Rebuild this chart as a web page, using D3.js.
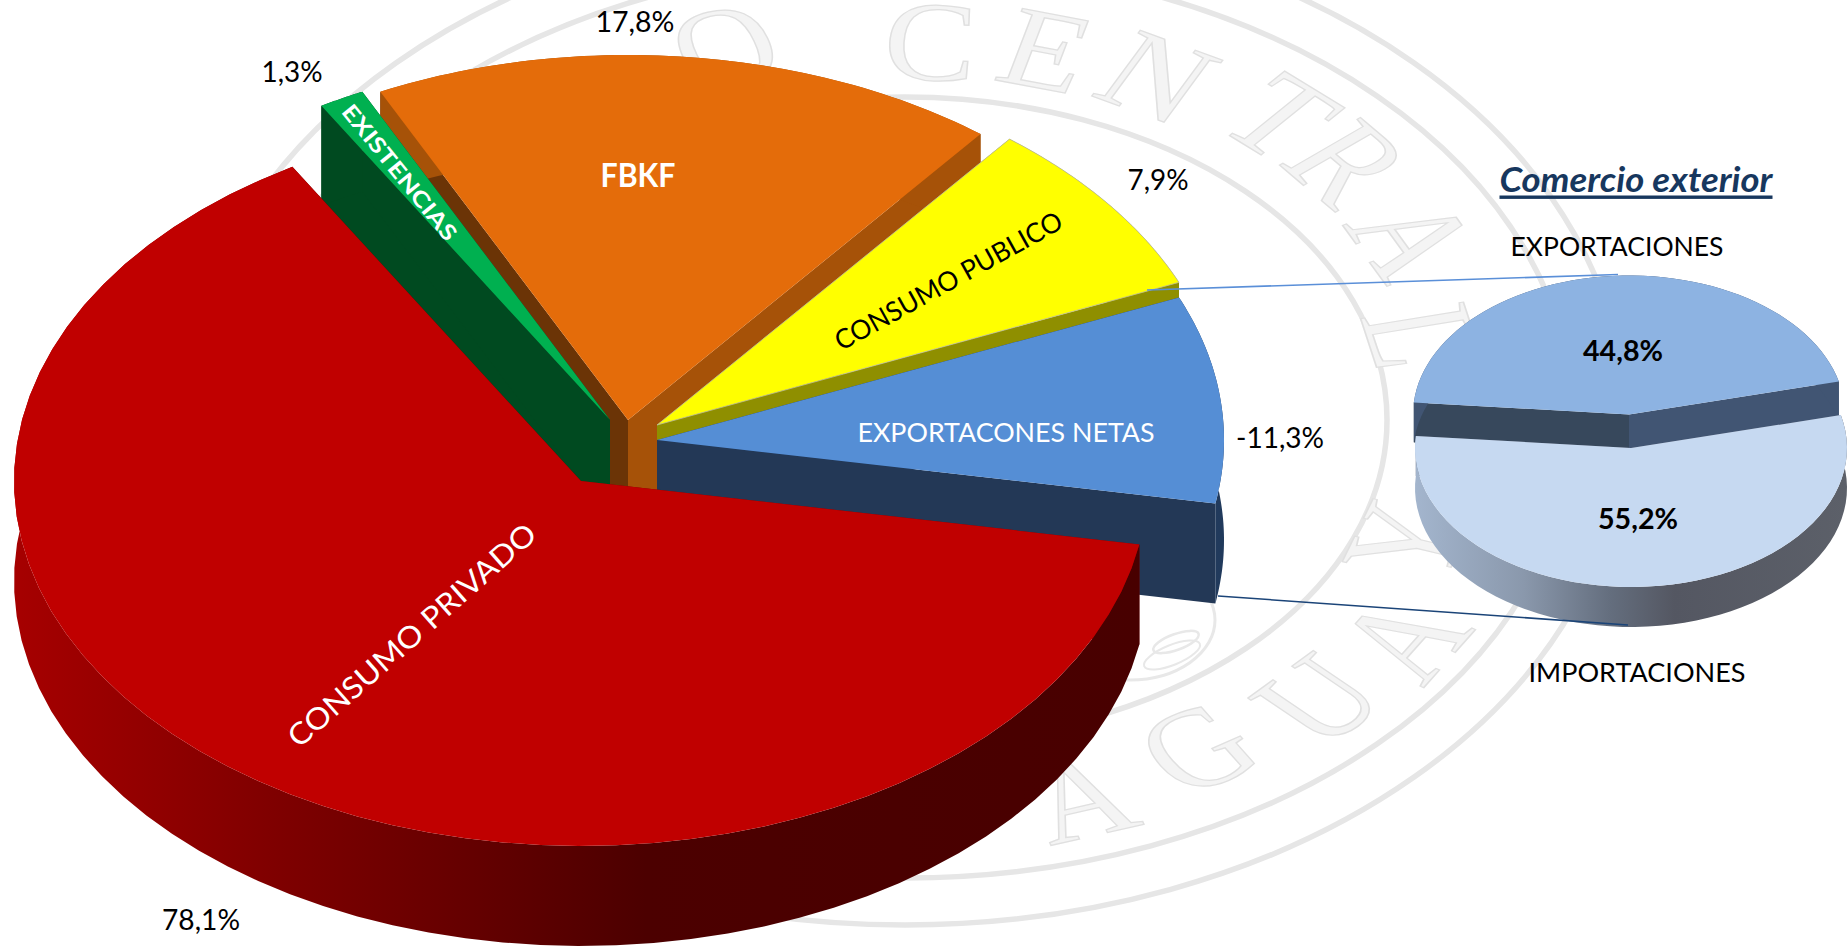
<!DOCTYPE html>
<html lang="es">
<head>
<meta charset="utf-8">
<title>Demanda agregada</title>
<script src="https://cdn.jsdelivr.net/npm/d3@7"></script>
<style>
html,body{margin:0;padding:0;background:#fff;overflow:hidden}
svg{display:block}
text{font-family:Lato,"Open Sans",sans-serif}
</style>
</head>
<body>
<svg id="chart" width="1847" height="949"></svg>
<script>
// ---- data ----
const categories = ["CONSUMO PRIVADO","EXISTENCIAS","FBKF","CONSUMO PUBLICO","EXPORTACONES NETAS"];
const values = [78.1, 1.3, 17.8, 7.9, -11.3];
const tradeCategories = ["EXPORTACIONES","IMPORTACIONES"];
const tradeValues = [44.8, 55.2];
const tradeTitle = "Comercio exterior";
const sealTop = ["O","C","E","N","T","R","A","L"];
const sealBottom = ["A","G","U","A","Y"];

// ---- layout (positions and styles only) ----
const W = 1847, H = 949;
const big = {rx:567, ry:365, depth:100};
const small = {rx:216, ry:139, depth:40, startDeg:275};
const sliceLayout = {
  "CONSUMO PRIVADO":   {cx:581,cy:481,top:"#c00000",outer:"url(#redWall)",cutA:"#7a0000",cutB:"#4a0000"},
  "EXISTENCIAS":       {cx:610,cy:420,top:"#00b050",outer:"#004a20",cutA:"#004a20",cutB:"#004a20"},
  "FBKF":              {cx:628,cy:420,top:"#e46c0a",outer:"#a65208",cutA:"#6b3406",cutB:"#a65208"},
  "CONSUMO PUBLICO":   {cx:657,cy:425,top:"#ffff00",outer:"#8f8f00",cutA:"#8f8f00",cutB:"#8f8f00",edge:"#b9b9a0"},
  "EXPORTACONES NETAS":{cx:657,cy:440,top:"#558ed5",outer:"#213a5c",cutA:"#213a5c",cutB:"#233856"}
};
const drawOrder = ["FBKF","CONSUMO PUBLICO","EXPORTACONES NETAS","EXISTENCIAS","CONSUMO PRIVADO"];
const nameLabels = {
  "CONSUMO PRIVADO":   {x:411,y:634,rot:-41.5,size:30,len:320,fill:"#fff"},
  "EXISTENCIAS":       {x:400,y:172,rot:51,size:22,len:168,fill:"#fff",weight:700},
  "FBKF":              {x:638,y:174,rot:0,size:32,len:75,fill:"#fff",weight:700},
  "CONSUMO PUBLICO":   {x:948,y:280,rot:-29,size:27,len:256,fill:"#000"},
  "EXPORTACONES NETAS":{x:1006,y:431,rot:0,size:27.5,len:297,fill:"#fff"}
};
const valueLabels = {
  "CONSUMO PRIVADO":   {x:201,y:918,len:78},
  "EXISTENCIAS":       {x:292,y:70,len:61},
  "FBKF":              {x:635,y:20,len:79},
  "CONSUMO PUBLICO":   {x:1158,y:178,len:61},
  "EXPORTACONES NETAS":{x:1280,y:436,len:88}
};
const tradeLayout = {
  "EXPORTACIONES":{cx:1629,cy:414.5,top:"#8db3e2",outer:"#415573",cutA:"#37485c",cutB:"#415573",
    vx:1623,vy:349,nx:1617,ny:245,nlen:213},
  "IMPORTACIONES":{cx:1631,cy:448,top:"#c6d9f1",outer:"url(#tradeWall)",cutA:"#5a6070",cutB:"#5a6070",
    vx:1638,vy:517,nx:1637,ny:671,nlen:217}
};
const connectors = [
  {x1:1147,y1:290,x2:1618,y2:274.5,color:"#5a8fd8"},
  {x1:1218,y1:596,x2:1628,y2:625,color:"#1b4478"}
];
const seal = {
  cx:905, cy:420, stretch:1.426, fontSize:113, squeeze:.86,
  rings:[{rx:720,ry:505},{rx:668,ry:458},{rx:482,ry:323}],
  topAngles:[-18.7,2.7,15,27.3,41,50.4,63,77],
  topRadii:[394,379,383,386,402,403,400,372],
  bottomAngles:[162,148,134,122,109],
  bottomRadii:[398,387,402,412,372],
  crest:[{cx:1130,cy:620,rx:85,ry:60,rot:0,w:3},{cx:1176,cy:642,rx:24,ry:8,rot:-20,w:2.5},{cx:1172,cy:655,rx:30,ry:10,rot:-22,w:2}]
};

// ---- helpers ----
const svg = d3.select("#chart");
const defs = svg.append("defs");
function hGradient(id, x1, x2, stops){
  const g = defs.append("linearGradient").attr("id",id)
    .attr("gradientUnits","userSpaceOnUse").attr("x1",x1).attr("x2",x2).attr("y1",0).attr("y2",0);
  stops.forEach(s=>g.append("stop").attr("offset",s[0]).attr("stop-color",s[1]));
}
hGradient("redWall",14,1143,[[0,"#a60000"],[.23,"#7f0000"],[.38,"#680000"],[.56,"#4c0000"],[1,"#480000"]]);
hGradient("tradeWall",1416,1847,[[0,"#a3b5cd"],[.25,"#8a98ac"],[.45,"#646e7e"],[.6,"#545762"],[1,"#5c6069"]]);

const line = d3.line();
const rad = d => d*Math.PI/180;
const project = (c, g, deg, dz=0) => [c.cx + g.rx*Math.sin(rad(deg)), c.cy - g.ry*Math.cos(rad(deg)) + dz];
const sample = (a, b) => d3.range(0,61).map(i => a + (b-a)*i/60);

function drawSlice(layer, c, g, a0, a1){
  const arc = sample(a0,a1);
  const top = arc.map(a=>project(c,g,a));
  const low = arc.map(a=>project(c,g,a,g.depth)).reverse();
  const apex = [c.cx,c.cy], apexLow = [c.cx,c.cy+g.depth];
  layer.append("path").attr("d",line([apex,top[0],low[60],apexLow])+"Z").attr("fill",c.cutA);
  layer.append("path").attr("d",line([apex,top[60],low[0],apexLow])+"Z").attr("fill",c.cutB);
  layer.append("path").attr("d",line(top.concat(low))+"Z").attr("fill",c.outer);
  const face = layer.append("path").attr("d",line([apex].concat(top))+"Z").attr("fill",c.top);
  if(c.edge) face.attr("stroke",c.edge).attr("stroke-width",.8);
}
function putText(sel, str, o){
  const t = sel.append("text")
    .attr("transform",`translate(${o.x},${o.y}) rotate(${o.rot||0})`)
    .attr("text-anchor","middle").attr("dominant-baseline","central")
    .attr("font-size",o.size).attr("fill",o.fill||"#000")
    .attr("font-weight",o.weight||400)
    .text(str);
  if(o.len) t.attr("textLength",o.len).attr("lengthAdjust","spacingAndGlyphs");
  return t;
}

// ---- watermark seal ----
const wm = svg.append("g").attr("class","seal");
seal.rings.forEach(r=>{
  wm.append("ellipse").attr("cx",seal.cx).attr("cy",seal.cy).attr("rx",r.rx).attr("ry",r.ry)
    .attr("fill","none").attr("stroke","#e6e6e6").attr("stroke-width",5.5);
});
seal.crest.forEach(r=>{
  wm.append("ellipse").attr("transform",`translate(${r.cx},${r.cy}) rotate(${r.rot})`).attr("rx",r.rx).attr("ry",r.ry)
    .attr("fill","none").attr("stroke","#e8e8e8").attr("stroke-width",r.w);
});
const wmText = wm.append("g").attr("transform",`translate(${seal.cx},${seal.cy}) scale(${seal.stretch},1)`);
function sealLetter(ch, deg, radius, flip){
  const th = rad(deg);
  wmText.append("text")
    .attr("transform",`translate(${radius*Math.sin(th)},${-radius*Math.cos(th)}) rotate(${flip?deg-180:deg}) scale(${seal.squeeze},1)`)
    .attr("text-anchor","middle").attr("dominant-baseline","central")
    .style("font-family","'Liberation Serif',serif")
    .attr("font-size",seal.fontSize).attr("fill","#f4f4f4")
    .attr("stroke","#e0e0e0").attr("stroke-width",1.4).attr("vector-effect","non-scaling-stroke")
    .text(ch);
}
sealTop.forEach((ch,i)=>sealLetter(ch,seal.topAngles[i],seal.topRadii[i],false));
sealBottom.forEach((ch,i)=>sealLetter(ch,seal.bottomAngles[i],seal.bottomRadii[i],true));

// ---- main pie ----
const pie = d3.pie().sort(null).value(d=>Math.abs(d));
const arcs = pie(values);
// the tilted view stretches the far part of the disc and compresses the near part
const viewAngle = d3.scaleLinear()
  .domain([0, arcs[0].endAngle, arcs[3].endAngle, 2*Math.PI])
  .range([100, 329.4, 427, 460]);
const mainLayer = svg.append("g").attr("class","main-pie");
drawOrder.forEach(name=>{
  const i = categories.indexOf(name), a = arcs[i];
  drawSlice(mainLayer.append("g"), sliceLayout[name], big, viewAngle(a.startAngle), viewAngle(a.endAngle));
});

// ---- trade pie ----
const tradeArcs = pie(tradeValues);
const tradeLayer = svg.append("g").attr("class","trade-pie");
const tradeAngle = d3.scaleLinear().domain([0,2*Math.PI]).range([small.startDeg, small.startDeg+360]);
tradeCategories.forEach((name,i)=>{
  drawSlice(tradeLayer.append("g"), tradeLayout[name], small, tradeAngle(tradeArcs[i].startAngle), tradeAngle(tradeArcs[i].endAngle));
});

// ---- connectors ----
svg.append("g").selectAll("line").data(connectors).join("line")
  .attr("x1",d=>d.x1).attr("y1",d=>d.y1).attr("x2",d=>d.x2).attr("y2",d=>d.y2)
  .attr("stroke",d=>d.color).attr("stroke-width",1.6);

// ---- labels ----
const labels = svg.append("g").attr("class","labels");
const comma = d3.formatLocale({decimal:",",thousands:".",grouping:[3],currency:["",""]}).format(".1f");
const pct = v => comma(v).replace("−","-") + "%";
categories.forEach((name,i)=>{
  putText(labels,name,nameLabels[name]);
  const v = valueLabels[name];
  putText(labels,pct(values[i]),{x:v.x,y:v.y,size:29,len:v.len});
});
tradeCategories.forEach((name,i)=>{
  const t = tradeLayout[name];
  putText(labels,name,{x:t.nx,y:t.ny,size:27.5,len:t.nlen});
  putText(labels,pct(tradeValues[i]),{x:t.vx,y:t.vy,size:29,len:80,weight:700});
});
putText(labels,tradeTitle,{x:1636,y:178,size:34,len:273,weight:700,fill:"#17375e"})
  .attr("font-style","italic").attr("text-decoration","underline");
</script>
</body>
</html>
